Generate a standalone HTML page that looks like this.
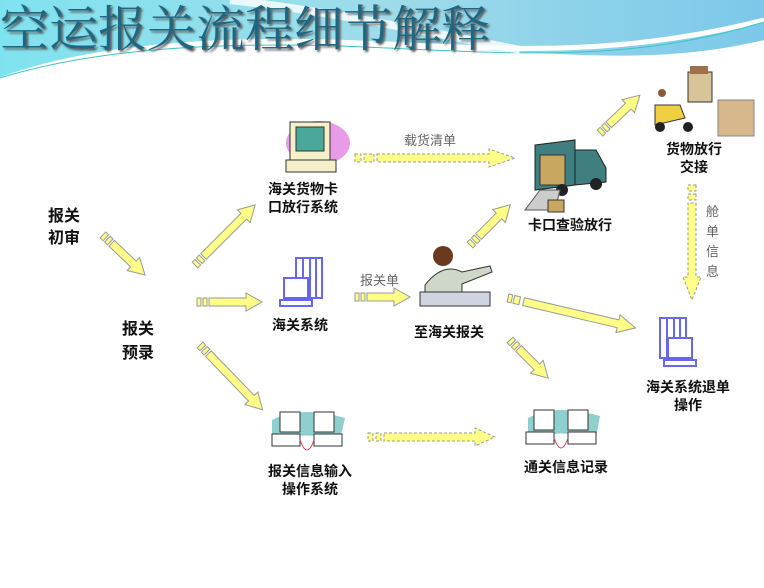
<!DOCTYPE html>
<html><head><meta charset="utf-8"><style>
body{margin:0;width:764px;height:588px;overflow:hidden;background:#fff;font-family:"Liberation Sans","Noto Sans CJK SC",sans-serif;}
.t{position:absolute;font-weight:bold;font-size:14px;color:#111;line-height:18px;text-align:center;white-space:nowrap}
.g{position:absolute;font-size:13px;color:#666;white-space:nowrap}
</style></head><body>
<svg width="764" height="588" style="position:absolute;left:0;top:0">
<defs>
<linearGradient id="bg" x1="0" x2="1" y1="0" y2="0"><stop offset="0" stop-color="#7fe3ef"/><stop offset="0.5" stop-color="#9fdcea"/><stop offset="1" stop-color="#7cc8ea"/></linearGradient>
</defs>
<path d="M0 0H764V40C700 55 640 58 560 54C420 48 330 40 200 45C120 50 50 62 0 80Z" fill="url(#bg)"/>
<path d="M0 80C80 50 200 38 330 42C480 46 600 62 764 20" stroke="#fff" stroke-width="5" fill="none"/>
<path d="M0 78C90 50 210 42 340 46C500 52 620 66 764 22" stroke="#3cc6c0" stroke-width="1" fill="none"/>
<path d="M230 0C320 10 420 30 520 50" stroke="#fff" stroke-width="8" fill="none" opacity=".8"/>
<g fill="#ffff88" stroke="#999" stroke-width="1">
<g transform="translate(103,235) rotate(43.6)"><rect x="0" y="-4" width="4" height="8"/><rect x="6" y="-4" width="4" height="8"/><polygon points="12,-4 42,-4 42,-9 58,0 42,9 42,4 12,4"/></g>
<g transform="translate(195,265) rotate(-45)"><rect x="0" y="-4" width="4" height="8"/><rect x="6" y="-4" width="4" height="8"/><polygon points="12,-4 69,-4 69,-9 85,0 69,9 69,4 12,4"/></g>
<g transform="translate(197,302)"><rect x="0" y="-4" width="4" height="8"/><rect x="6" y="-4" width="4" height="8"/><polygon points="12,-4 49,-4 49,-9 65,0 49,9 49,4 12,4"/></g>
<g transform="translate(200,345) rotate(46)"><rect x="0" y="-4" width="4" height="8"/><rect x="6" y="-4" width="4" height="8"/><polygon points="12,-4 74,-4 74,-9 90,0 74,9 74,4 12,4"/></g>
<g transform="translate(355,158)" stroke-dasharray="3,2"><rect x="0" y="-4" width="6" height="8"/><rect x="9" y="-4" width="10" height="8"/><polygon points="22,-4 134,-4 134,-9 160,0 134,9 134,4 22,4"/></g>
<g transform="translate(355,297)"><rect x="0" y="-4" width="4" height="8"/><rect x="6" y="-4" width="4" height="8"/><polygon points="12,-4 39,-4 39,-9 55,0 39,9 39,4 12,4"/></g>
<g transform="translate(470,245) rotate(-45)"><rect x="0" y="-4" width="4" height="8"/><rect x="6" y="-4" width="4" height="8"/><polygon points="12,-4 41,-4 41,-9 57,0 41,9 41,4 12,4"/></g>
<g transform="translate(600,133) rotate(-43.5)"><rect x="0" y="-4" width="4" height="8"/><rect x="6" y="-4" width="4" height="8"/><polygon points="12,-4 39,-4 39,-9 55,0 39,9 39,4 12,4"/></g>
<g transform="translate(692,185) rotate(90)" stroke-dasharray="3,2"><rect x="0" y="-4" width="6" height="8"/><rect x="9" y="-4" width="6" height="8"/><polygon points="18,-4 92,-4 92,-9 115,0 92,9 92,4 18,4"/></g>
<g transform="translate(508,298) rotate(13.2)"><rect x="0" y="-4" width="4" height="8"/><rect x="6" y="-4" width="6" height="8"/><polygon points="16,-4 113,-4 113,-9 131,0 113,9 113,4 16,4"/></g>
<g transform="translate(510,340) rotate(45)"><rect x="0" y="-4" width="4" height="8"/><rect x="6" y="-4" width="4" height="8"/><polygon points="12,-4 38,-4 38,-9 54,0 38,9 38,4 12,4"/></g>
<g transform="translate(368,437)" stroke-dasharray="3,2"><rect x="0" y="-4" width="5" height="8"/><rect x="8" y="-4" width="5" height="8"/><polygon points="16,-4 107,-4 107,-9 127,0 107,9 107,4 16,4"/></g>
</g>
<ellipse cx="318" cy="143" rx="32" ry="22" fill="#e89ce8"/>
<rect x="290" y="122" width="40" height="38" fill="#f5f0c8" stroke="#333"/>
<rect x="296" y="127" width="28" height="24" fill="#4aa89a" stroke="#333"/>
<rect x="286" y="160" width="50" height="12" fill="#f5f0c8" stroke="#333"/>
<g fill="none" stroke="#6666ee" stroke-width="2">
<rect x="296" y="258" width="26" height="40"/><line x1="303" y1="258" x2="303" y2="298"/><line x1="310" y1="258" x2="310" y2="298"/><line x1="316" y1="258" x2="316" y2="298"/>
<rect x="284" y="278" width="24" height="20" fill="#fff"/><rect x="280" y="300" width="32" height="6"/>
<rect x="660" y="318" width="26" height="40"/><line x1="667" y1="318" x2="667" y2="358"/><line x1="674" y1="318" x2="674" y2="358"/><line x1="680" y1="318" x2="680" y2="358"/>
<rect x="668" y="338" width="24" height="20" fill="#fff"/><rect x="664" y="360" width="32" height="6"/>
</g>
<circle cx="443" cy="256" r="10" fill="#6b3a1e"/>
<path d="M425 285 Q443 262 462 272 L490 266 L492 272 L462 284 L462 295 L425 295Z" fill="#cfd8c8" stroke="#333"/>
<rect x="420" y="292" width="70" height="14" fill="#cfd4e0" stroke="#333"/>
<polygon points="535,145 575,140 575,185 535,190" fill="#3f7f7f" stroke="#222"/>
<rect x="540" y="155" width="25" height="30" fill="#c8a860" stroke="#333"/>
<path d="M575 150 L596 150 L606 168 L606 182 L575 185Z" fill="#3f7f7f" stroke="#222"/>
<circle cx="596" cy="184" r="6" fill="#222"/><circle cx="562" cy="190" r="6" fill="#222"/>
<polygon points="540,190 560,190 555,210 525,210" fill="#ccc" stroke="#555"/>
<rect x="548" y="200" width="16" height="12" fill="#c8a860" stroke="#333"/>
<rect x="688" y="72" width="24" height="30" fill="#d9c49a" stroke="#333"/>
<rect x="690" y="66" width="18" height="8" fill="#a0704a"/>
<path d="M655 105 L680 105 L685 118 L655 125Z" fill="#f0d040" stroke="#333"/>
<circle cx="660" cy="127" r="5" fill="#222"/><circle cx="688" cy="127" r="5" fill="#222"/>
<circle cx="662" cy="93" r="4" fill="#8a5a3a"/>
<rect x="718" y="100" width="36" height="36" fill="#d6b88c" stroke="#888"/>
<g fill="#fff" stroke="#333">
<path d="M272 420 Q300 405 345 418 L340 440 Q300 430 272 442Z" fill="#8fcfcf" stroke="none"/>
<rect x="280" y="412" width="20" height="20"/><rect x="314" y="412" width="20" height="20"/>
<rect x="272" y="434" width="28" height="12"/><rect x="314" y="434" width="28" height="12"/>
<path d="M528 418 Q556 403 600 416 L596 438 Q556 428 528 440Z" fill="#8fcfcf" stroke="none"/>
<rect x="534" y="410" width="20" height="20"/><rect x="568" y="410" width="20" height="20"/>
<rect x="526" y="432" width="28" height="12"/><rect x="568" y="432" width="28" height="12"/>
</g>
<path d="M300 440 Q307 460 314 440" stroke="#d04060" fill="none"/>
<path d="M554 438 Q561 458 568 438" stroke="#d04060" fill="none"/>
</svg>
<div style="position:absolute;left:0;top:-3px;font-size:49px;color:#1e6682;font-family:'Liberation Serif','Noto Serif CJK SC',serif;line-height:66px;text-shadow:2px 2px 2px #555;letter-spacing:0px">空运报关流程细节解释</div>
<div class="t" style="left:48px;top:206px;font-size:16px;line-height:22px;text-align:left">报关<br>初审</div>
<div class="t" style="left:122px;top:318px;font-size:16px;line-height:24px;text-align:left">报关<br>预录</div>
<div class="t" style="left:268px;top:180px">海关货物卡<br>口放行系统</div>
<div class="t" style="left:272px;top:316px">海关系统</div>
<div class="t" style="left:414px;top:323px">至海关报关</div>
<div class="t" style="left:528px;top:216px">卡口查验放行</div>
<div class="t" style="left:666px;top:140px">货物放行<br>交接</div>
<div class="t" style="left:646px;top:378px">海关系统退单<br>操作</div>
<div class="t" style="left:268px;top:462px">报关信息输入<br>操作系统</div>
<div class="t" style="left:524px;top:458px">通关信息记录</div>
<div class="g" style="left:404px;top:130px">载货清单</div>
<div class="g" style="left:360px;top:270px">报关单</div>
<div class="g" style="left:706px;top:202px;width:14px;line-height:20px;white-space:normal">舱单信息</div>
</body></html>
